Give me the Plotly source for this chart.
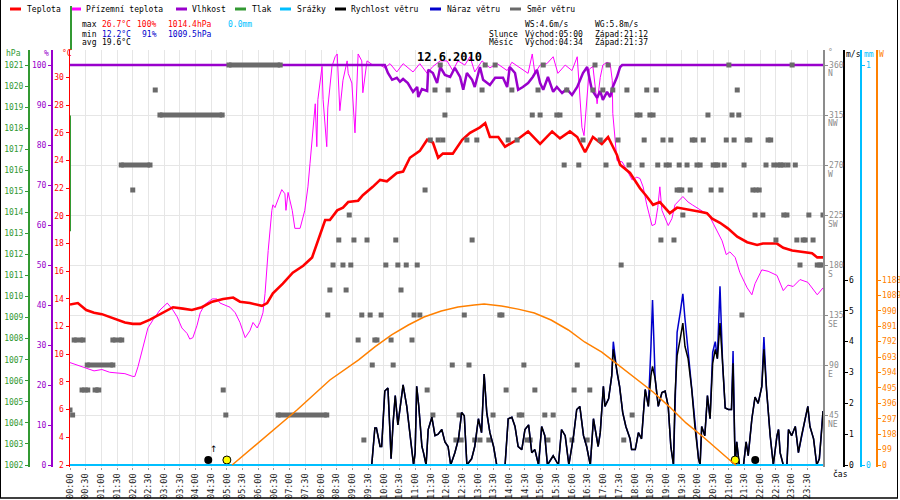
"""Daily weather station chart for 12.6.2010 (Plotly rebuild)."""

import plotly.graph_objects as go

W, H = 900, 500
LEFT, RIGHT, TOP, BASE, BOTTOM = 70, 823, 50, 465, 467
FONT = "DejaVu Sans Mono"

RED = "#ff0000"
MAGENTA = "#ff00ff"
PURPLE = "#9900cc"
GREEN = "#339933"
CYAN = "#00bfff"
BLUE = "#0000cc"
ORANGE = "#ff8000"
SQUARE = "#6a6a6a"
AXGRAY = "#8c8c8c"
GRID = "#e6e6e6"

# ---------------------------------------------------------------- data
temp_time = [
    "00:00", "00:15", "00:31", "00:46", "01:01", "01:16", "01:30", "01:45", "02:00", "02:14",
    "02:33", "02:58", "03:17", "03:36", "03:53", "04:12", "04:32", "04:53", "05:12", "05:25",
    "05:44", "06:07", "06:17", "06:28", "06:47", "07:06", "07:26", "07:43", "07:54", "08:08",
    "08:17", "08:31", "08:42", "08:52", "09:11", "09:20", "09:39", "09:53", "10:06", "10:25",
    "10:37", "10:50", "11:09", "11:23", "11:34", "11:44", "11:53", "12:12", "12:30", "12:45",
    "13:04", "13:14", "13:23", "13:39", "13:52", "14:15", "14:36", "14:59", "15:22", "15:37",
    "15:56", "16:10", "16:25", "16:40", "16:57", "17:09", "17:26", "17:32", "17:51", "18:10",
    "18:23", "18:35", "18:48", "19:07", "19:21", "19:46", "20:05", "20:18", "20:28", "20:43",
    "20:58", "21:16", "21:35", "21:54", "22:05", "22:32", "22:44", "23:01", "23:16", "23:39",
    "23:49", "24:00",
]
temp_c = [
    13.6, 13.7, 13.2, 13.0, 12.9, 12.7, 12.5, 12.3, 12.2, 12.2,
    12.5, 13.0, 13.4, 13.3, 13.2, 13.4, 13.8, 14.0, 14.1, 13.8,
    13.7, 13.5, 13.7, 14.4, 15.1, 15.9, 16.4, 17.0, 18.2, 19.7,
    19.7, 20.4, 20.6, 21.0, 21.1, 21.5, 22.1, 22.6, 22.5, 23.1,
    23.2, 24.2, 24.7, 25.5, 25.3, 24.2, 24.5, 24.5, 25.5, 26.0,
    26.4, 26.7, 25.7, 25.7, 25.0, 25.5, 26.1, 25.2, 26.1, 25.6,
    26.1, 25.7, 24.6, 25.7, 25.2, 25.7, 24.4, 23.7, 23.1, 22.0,
    21.4, 20.8, 21.0, 20.2, 20.6, 20.4, 20.3, 20.2, 19.8, 19.5,
    19.1, 18.5, 18.1, 17.9, 18.0, 18.0, 17.7, 17.5, 17.4, 17.3,
    17.0, 17.0,
]

ground_time = [
    "00:00", "00:15", "00:31", "00:46", "01:01", "01:16", "01:30", "01:45", "02:00", "02:04",
    "02:10", "02:20", "02:29", "02:39", "02:52", "03:06", "03:15", "03:25", "03:34", "03:44",
    "03:49", "03:55", "04:03", "04:09", "04:18", "04:32", "04:41", "04:47", "05:06", "05:16",
    "05:25", "05:35", "05:44", "05:50", "05:58", "06:03", "06:09", "06:13", "06:17", "06:19",
    "06:26", "06:28", "06:32", "06:45", "06:51", "06:53", "06:57", "07:05", "07:10", "07:20",
    "07:29", "07:35", "07:39", "07:45", "07:49", "07:52", "07:54", "08:02", "08:04", "08:11",
    "08:13", "08:21", "08:27", "08:31", "08:33", "08:36", "08:42", "08:50", "08:52", "08:59",
    "09:05", "09:11", "09:18", "09:20", "09:28", "09:39", "09:53", "10:02", "10:12", "10:25",
    "10:37", "10:56", "11:09", "11:23", "11:34", "11:48", "12:01", "12:12", "12:22", "12:35",
    "12:45", "12:54", "13:08", "13:23", "13:37", "13:56", "14:05", "14:21", "14:36", "14:44",
    "14:49", "14:59", "15:12", "15:24", "15:33", "15:47", "16:00", "16:10", "16:15", "16:19",
    "16:23", "16:29", "16:33", "16:40", "16:48", "16:54", "16:59", "17:07", "17:13", "17:17",
    "17:18", "17:26", "17:36", "17:45", "17:55", "18:04", "18:10", "18:16", "18:23", "18:33",
    "18:39", "18:44", "18:48", "18:52", "19:04", "19:11", "19:17", "19:32", "19:42", "19:50",
    "20:11", "20:20", "20:37", "20:47", "20:55", "21:02", "21:12", "21:21", "21:35", "21:44",
    "21:50", "22:03", "22:15", "22:32", "22:44", "22:53", "23:03", "23:16", "23:31", "23:49",
    "24:00",
]
ground_c = [
    9.4, 9.2, 9.0, 8.8, 8.9, 8.7, 8.65, 8.6, 8.4, 8.4,
    9.1, 10.5, 11.9, 12.5, 13.2, 13.7, 13.3, 12.7, 11.9, 11.5,
    11.1, 11.2, 12.1, 13.0, 13.6, 14.0, 14.0, 13.7, 13.4, 13.0,
    12.3, 11.2, 11.7, 12.3, 11.9, 12.3, 13.0, 14.4, 16.8, 17.5,
    20.4, 20.8, 20.6, 21.9, 21.6, 20.4, 21.7, 20.4, 19.1, 19.1,
    20.4, 22.1, 23.8, 26.2, 28.1, 25.0, 28.4, 30.8, 28.4, 25.0,
    27.8, 30.8, 31.5, 31.7, 29.8, 27.6, 29.8, 31.2, 30.3, 29.6,
    26.0, 31.7, 31.2, 28.9, 31.2, 30.9, 30.9, 30.7, 31.0, 30.4,
    31.0, 30.4, 31.0, 30.3, 30.8, 31.2, 31.2, 30.5, 31.2, 30.9,
    31.5, 30.4, 31.2, 30.7, 31.0, 30.5, 31.1, 30.7, 30.3, 31.7,
    30.3, 30.9, 31.0, 31.5, 30.3, 30.9, 30.5, 31.5, 28.4, 26.4,
    25.8, 28.4, 30.6, 30.8, 28.1, 30.0, 30.9, 31.1, 31.0, 29.8,
    27.4, 24.0, 23.9, 23.3, 22.6, 22.8, 22.7, 22.1, 20.8, 19.3,
    19.4, 20.6, 22.1, 20.4, 19.3, 19.8, 20.8, 21.4, 21.0, 20.8,
    20.3, 20.2, 19.0, 18.2, 17.2, 17.4, 17.0, 15.9, 14.8, 14.3,
    15.1, 16.1, 16.0, 15.7, 14.6, 15.0, 14.9, 15.4, 15.2, 14.3,
    14.8,
]

hum_time = [
    "00:00", "10:02", "10:08", "10:16", "10:25", "10:31", "10:37", "10:46", "10:56", "11:04",
    "11:06", "11:13", "11:23", "11:25", "11:34", "11:42", "11:48", "11:57", "12:07", "12:16",
    "12:26", "12:32", "12:39", "12:49", "12:54", "13:04", "13:10", "13:23", "13:33", "13:48",
    "13:56", "14:01", "14:11", "14:17", "14:26", "14:36", "14:45", "14:53", "14:59", "15:05",
    "15:14", "15:24", "15:31", "15:41", "15:50", "16:00", "16:10", "16:21", "16:29", "16:38",
    "16:48", "16:54", "16:59", "17:07", "17:13", "17:18", "17:26", "17:32", "17:36", "24:00",
]
hum_pct = [
    100, 100, 98, 96.3, 96.8, 95.8, 96.5, 95.5, 93.3, 94.5,
    92, 94, 93.5, 98.8, 98, 95.5, 99.5, 97.5, 97, 99.3,
    97, 93.8, 98, 96.3, 94.5, 99.5, 96.3, 95, 96.8, 96.8,
    94.5, 99.5, 98, 93.8, 94.5, 95.5, 97, 98.8, 95.5, 93.8,
    97, 93.3, 94.5, 93, 94, 92.5, 94.5, 98, 99.5, 93.8,
    91.8, 93.5, 91.3, 93.3, 92, 94.5, 97, 99.5, 100, 100,
]

# the pressure trace shows up only as a short stroke on the left edge
pressure_time = ["00:00", "00:00"]
pressure_hpa = [1013.1, 1018.6]

wind_time = [
    "00:00", "09:37", "09:43", "09:46", "09:53", "09:56", "10:02", "10:08", "10:12", "10:14",
    "10:18", "10:22", "10:27", "10:34", "10:37", "10:44", "10:50", "10:57", "11:00", "11:03",
    "11:07", "11:13", "11:16", "11:21", "11:25", "11:32", "11:38", "11:44", "11:51", "11:57",
    "12:03", "12:08", "12:16", "12:23", "12:29", "12:34", "12:39", "12:48", "12:54", "13:01",
    "13:07", "13:12", "13:17", "13:23", "13:30", "13:36", "13:52", "13:58", "14:05", "14:11",
    "14:17", "14:24", "14:30", "14:37", "14:43", "14:49", "14:56", "15:02", "15:08", "15:13",
    "15:24", "15:34", "15:40", "15:47", "15:54", "16:03", "16:09", "16:15", "16:22", "16:28",
    "16:35", "16:41", "16:50", "16:54", "17:00", "17:03", "17:10", "17:16", "17:19", "17:26",
    "17:31", "17:37", "17:43", "17:51", "17:54", "18:01", "18:07", "18:13", "18:20", "18:26",
    "18:31", "18:34", "18:39", "18:45", "18:52", "18:58", "19:04", "19:09", "19:14", "19:17",
    "19:21", "19:27", "19:32", "19:36", "19:42", "19:49", "19:55", "20:02", "20:05", "20:08",
    "20:14", "20:19", "20:24", "20:29", "20:34", "20:38", "20:43", "20:48", "20:53", "20:59",
    "21:05", "21:08", "21:12", "21:15", "21:20", "21:28", "21:33", "21:37", "21:44", "21:50",
    "21:56", "22:03", "22:07", "22:12", "22:19", "22:25", "22:32", "22:35", "22:38", "22:44",
    "22:51", "22:54", "23:00", "23:07", "23:13", "23:19", "23:26", "23:31", "23:35", "23:42",
    "23:48", "23:53", "23:58", "24:00",
]
wind_ms = [
    0, 0, 1.2, 1.2, 0.6, 0.6, 2.4, 2.5, 1.05, 0.2,
    1.4, 2.25, 1.3, 2.15, 2.6, 1.9, 1.1, 0, 0.4, 2.55,
    1.9, 0.6, 0.4, 0, 1.15, 1.55, 0.95, 1.0, 1.15, 0.75,
    0.6, 0, 0.4, 0.85, 1.7, 1.6, 0, 0.2, 0.6, 1.5,
    1.05, 2.95, 1.7, 1.05, 0.6, 0, 0, 1.5, 1.55, 1.25,
    0.6, 0.5, 1.15, 1.3, 0.4, 0.5, 0, 1.25, 0.95, 0,
    0.3, 0, 1.15, 0.95, 0, 0.95, 1.8, 1.9, 0.95, 0.6,
    0, 1.5, 0.6, 1.05, 2.55, 1.9, 2.15, 2.9, 3.75, 3.0,
    2.55, 1.7, 1.25, 0.85, 0.5, 0.5, 1.05, 0.85, 2.45, 1.9,
    2.9, 3.2, 2.8, 1.9, 2.35, 2.4, 1.9, 0.6, 0, 2.25,
    3.55, 4.1, 4.6, 3.85, 3.45, 2.45, 1.25, 0.2, 0, 1.25,
    0.95, 2.25, 1.5, 3.3, 3.75, 3.45, 4.6, 3.3, 1.85, 1.8,
    1.8, 3.3, 0, 0.75, 0, 0, 0.75, 0.3, 1.5, 2.2,
    2.0, 2.55, 3.75, 2.45, 0.95, 0, 0.95, 1.15, 0.4, 0,
    0, 1.15, 0.95, 1.25, 0.4, 0.95, 1.5, 1.9, 1.25, 0.85,
    0, 0.2, 1.25, 1.75,
]
# gusts only where they rise above the mean speed
gust_time = ["17:19", "18:31", "18:34", "19:21", "19:27", "19:32", "19:36",
             "19:42", "20:29", "20:34", "20:43", "21:08", "22:07"]
gust_ms = [4.0, 3.85, 5.35, 4.3, 4.95, 5.55, 4.75, 3.7, 3.65, 4.0, 5.8, 3.7, 4.15]

sun_time = [
    "05:10", "06:10", "07:14", "08:17", "09:12", "09:43", "10:15", "10:47", "11:17", "11:50",
    "12:22", "12:53", "13:12", "13:45", "14:17", "14:48", "15:20", "15:53", "16:24", "16:57",
    "17:22", "18:02", "18:35", "19:07", "19:38", "20:11", "20:43", "21:08", "21:14",
]
sun_w = [
    0, 171, 353, 546, 675, 758, 835, 899, 950, 989,
    1014, 1027, 1034, 1021, 1001, 976, 931, 867, 790, 725,
    661, 558, 469, 372, 270, 180, 83, 13, 0,
]

precip_time = ["00:00", "24:00"]
precip_mm = [0.0, 0.0]

dir_time = [
    "11:48", "13:14", "13:33", "15:05", "16:44", "17:09", "21:00", "23:01",
    "02:43", "11:38", "12:03", "13:08", "14:05", "14:55", "15:50", "16:40", "16:59", "17:18",
    "17:45", "18:23", "18:41", "21:16",
    "11:57", "14:44", "14:59", "15:31", "15:37", "16:50", "18:04", "18:10", "18:29", "18:35",
    "20:20", "21:06", "21:19",
    "11:29", "11:44", "11:53", "12:39", "12:58", "13:58", "14:15", "16:21", "16:54", "17:28",
    "18:18", "18:54", "19:09", "19:50", "19:55", "20:11", "20:55", "21:10", "21:35", "21:40",
    "22:15", "22:20",
    "15:45", "16:13", "17:05", "17:49", "18:14", "18:44", "19:00", "19:06", "19:25", "19:40",
    "19:59", "20:05", "20:30", "20:35", "20:39", "20:51", "21:29", "22:11", "22:26", "22:34",
    "22:39", "22:44", "22:53", "23:07",
    "02:00", "11:19", "19:21", "19:26", "19:30", "19:46", "20:26", "20:45", "21:46", "21:52",
    "21:58",
    "08:54", "19:32", "21:50", "22:05", "22:45", "22:51", "23:33", "24:00",
    "08:34", "09:03", "09:28", "10:23", "12:49", "18:50", "19:15", "22:30", "23:10", "23:22",
    "23:26", "23:41",
    "08:23", "08:42", "08:57", "10:04", "10:27", "10:43", "11:04", "17:34", "23:16", "23:49",
    "23:54", "23:58",
    "08:17", "08:48", "10:33",
    "08:13", "09:18", "09:34", "09:55", "10:58", "11:09", "12:34", "13:42", "13:46", "21:25",
    "09:11", "09:43", "09:47", "10:14", "10:54",
    "09:38", "10:18", "12:11", "12:43", "14:28", "16:10",
    "04:53", "11:23", "13:54", "14:49", "16:04", "16:34",
    "00:00", "00:05", "04:58", "11:34", "12:24", "13:29", "14:19", "14:24", "15:08", "15:24",
    "17:55",
    "09:22", "12:18", "12:28", "12:54", "13:04", "13:21", "14:34", "14:40", "15:14", "16:00",
    "16:29", "17:39",
]
dir_deg = (
    [360] * 8
    + [337.5] * 14
    + [315] * 13
    + [292.5] * 22
    + [270] * 24
    + [247.5] * 11
    + [225] * 8
    + [202.5] * 12
    + [180] * 12
    + [157.5] * 3
    + [135] * 10
    + [112.5] * 5
    + [90] * 6
    + [67.5] * 6
    + [49.5] + [45] * 10
    + [22.5] * 12
)
# stretches where the vane stayed on one reading
dir_run_start = ["05:04", "02:52", "01:38", "00:08", "01:22", "00:33", "00:23", "00:48", "06:38"]
dir_run_end = ["06:42", "04:51", "02:33", "00:25", "01:39", "01:22", "00:34", "00:55", "08:11"]
dir_run_deg = [360, 315, 270, 112.5, 112.5, 90, 67.5, 67.5, 45]

sunrise, sunset = "05:00", "21:12"
moonrise, moonset = "04:34", "21:37"

x_ticktext = [f"{h:02d}:{m:02d}" for h in range(24) for m in (0, 30)]
compass = ["NE", "E", "SE", "S", "SW", "W", "NW", "N"]
w_ticks = [0, 99, 198, 297, 396, 495, 594, 693, 792, 891, 990, 1089, 1188]


# ---------------------------------------------------------------- helpers
def hours(t):
    hh, mm = t.split(":")
    return int(hh) + int(mm) / 60


def hx(times):
    return [hours(t) for t in times]


def px(x):
    return x / W


def py(y):
    return 1 - y / H


def yrange(v_base, px_per_unit):
    return [v_base - (BOTTOM - BASE) / px_per_unit, v_base + (BASE - TOP) / px_per_unit]


PX_PER_H = (RIGHT - LEFT) / 24
PPU_WIND = 185 / 6


def side_axis(rng, color, tickvals, position=None, side="left", ticktext=None):
    ax = dict(
        range=rng,
        tickvals=tickvals,
        tickfont=dict(family=FONT, size=8, color=color),
        showline=True,
        linecolor=color,
        linewidth=1.5,
        ticks="outside",
        ticklen=3,
        tickcolor=color,
        showgrid=False,
        zeroline=False,
        side=side,
        automargin=False,
        fixedrange=True,
    )
    if ticktext is not None:
        ax["ticktext"] = ticktext
    if position is not None:
        ax.update(anchor="free", position=position, overlaying="y")
    return ax


# ---------------------------------------------------------------- figure
fig = go.Figure()

fig.add_trace(go.Scatter(x=hx(precip_time), y=precip_mm, yaxis="y6", mode="lines",
                         line=dict(color=CYAN, width=2)))
fig.add_trace(go.Scatter(x=hx(sun_time), y=sun_w, yaxis="y7", mode="lines",
                         line=dict(color=ORANGE, width=1.5)))

gust_lookup = dict(zip(gust_time, gust_ms))
gust_full = [gust_lookup.get(t, v) for t, v in zip(wind_time, wind_ms)]
fig.add_trace(go.Scatter(x=hx(wind_time), y=gust_full, yaxis="y5", mode="lines",
                         line=dict(color=BLUE, width=1.5)))
fig.add_trace(go.Scatter(x=hx(wind_time), y=wind_ms, yaxis="y5", mode="lines",
                         line=dict(color="black", width=1.5)))

fig.add_trace(go.Scatter(x=hx(hum_time), y=hum_pct, yaxis="y2", mode="lines",
                         line=dict(color=PURPLE, width=2.5)))

run_x, run_y = [], []
for s, e, d in zip(dir_run_start, dir_run_end, dir_run_deg):
    run_x += [hours(s), hours(e), None]
    run_y += [d, d, None]
fig.add_trace(go.Scatter(x=run_x, y=run_y, yaxis="y4", mode="lines+markers",
                         line=dict(color=SQUARE, width=5),
                         marker=dict(symbol="square", size=5, color=SQUARE, line=dict(width=0))))
fig.add_trace(go.Scatter(x=hx(dir_time), y=dir_deg, yaxis="y4", mode="markers",
                         marker=dict(symbol="square", size=5, color=SQUARE, line=dict(width=0))))

fig.add_trace(go.Scatter(x=hx(ground_time), y=ground_c, yaxis="y", mode="lines",
                         line=dict(color=MAGENTA, width=1)))
fig.add_trace(go.Scatter(x=hx(temp_time), y=temp_c, yaxis="y", mode="lines",
                         line=dict(color=RED, width=2.6)))
fig.add_trace(go.Scatter(x=hx(pressure_time), y=pressure_hpa, yaxis="y3", mode="lines",
                         line=dict(color=GREEN, width=2)))

# sun and moon markers just above the baseline
lift = 5 / PPU_WIND
fig.add_trace(go.Scatter(x=hx([sunrise, sunset]), y=[lift, lift], yaxis="y5", mode="markers",
                         cliponaxis=False,
                         marker=dict(symbol="circle", size=8, color="#ffff00",
                                     line=dict(color="black", width=1))))
fig.add_trace(go.Scatter(x=[hours(moonrise) - 5 / PX_PER_H, hours(moonset) + 7 / PX_PER_H],
                         y=[lift, lift], yaxis="y5", mode="markers", cliponaxis=False,
                         marker=dict(symbol="circle", size=8, color="black")))

# ---------------------------------------------------------------- annotations
ann = []


def label(x, y, text, color="black", size=8, anchor="left"):
    ann.append(dict(x=px(x), y=py(y), xref="paper", yref="paper", text=text, showarrow=False,
                    xanchor=anchor, yanchor="middle", font=dict(family=FONT, size=size, color=color)))


shapes = []


def seg(x0, y0, x1, y1, color, width):
    shapes.append(dict(type="line", xref="paper", yref="paper", x0=px(x0), y0=py(y0),
                       x1=px(x1), y1=py(y1), line=dict(color=color, width=width)))


legend_items = [
    (10, 25, "Teplota", RED), (70, 84, "Přízemní teplota", MAGENTA),
    (176, 190, "Vlhkost", PURPLE), (235, 250, "Tlak", GREEN),
    (280, 295, "Srážky", CYAN), (335, 349, "Rychlost větru", "black"),
    (430, 445, "Náraz větru", BLUE), (510, 525, "Směr větru", SQUARE),
]
for x0, xt, name, col in legend_items:
    seg(x0, 9, x0 + 11, 9, col, 3)
    label(xt, 9, name)

label(80, 24, "max")
label(100, 24, "26.7°C", RED)
label(135, 24, "100%", RED)
label(166, 24, "1014.4hPa", RED)
label(226, 24, "0.0mm", CYAN)
label(80, 34, "min")
label(100, 34, "12.2°C", BLUE)
label(140, 34, "91%", BLUE)
label(166, 34, "1009.5hPa", BLUE)
label(80, 43, "avg")
label(100, 43, "19.6°C")
label(523, 24, "WS:4.6m/s")
label(593, 24, "WG:5.8m/s")
label(487, 34, "Slunce")
label(523, 34, "Východ:" + sunrise)
label(593, 34, "Západ:" + sunset)
label(487, 43, "Měsíc")
label(523, 43, "Východ:" + moonrise)
label(593, 43, "Západ:" + moonset)

label(449, 57, "<b>12.6.2010</b>", size=12, anchor="center")

label(4, 54, "hPa", GREEN)
label(42, 54, "%", PURPLE)
label(60, 54, "°C", RED)
label(826, 53, "°", AXGRAY)
label(844, 55, "m/s")
label(862, 55, "mm", CYAN)
label(877, 55, "W", ORANGE)
label(831, 474, "čas")

for deg, name in zip(range(45, 361, 45), compass):
    ann.append(dict(x=px(826), y=deg, xref="paper", yref="y4", yshift=-9, text=name,
                    showarrow=False, xanchor="left", yanchor="middle",
                    font=dict(family=FONT, size=8, color=AXGRAY)))

ann.append(dict(x=hours(moonrise), y=py(456), xref="x", yref="paper", xshift=1, text="↑",
                showarrow=False, font=dict(family="DejaVu Sans", size=9, color="black")))

# green stroke above the plot on the temperature axis, and the frame
seg(71, 6, 71, TOP, GREEN, 2)
seg(0.5, 0, 0.5, 498, "black", 1)
seg(897.5, 0, 897.5, 498, "black", 1)
seg(0, 498, 898, 498, "black", 1.5)

# ---------------------------------------------------------------- layout
fig.update_layout(
    template="none",
    width=W,
    height=H,
    margin=dict(l=0, r=0, t=0, b=0, pad=0, autoexpand=False),
    paper_bgcolor="white",
    plot_bgcolor="white",
    showlegend=False,
    annotations=ann,
    shapes=shapes,
    xaxis=dict(
        domain=[px(LEFT), px(RIGHT)],
        range=[0, 24],
        tickvals=[i * 0.5 for i in range(48)],
        ticktext=x_ticktext,
        tickangle=-90,
        tickfont=dict(family=FONT, size=8.5, color="#222222"),
        ticks="outside",
        ticklen=2,
        tickcolor="#999999",
        showgrid=True,
        gridcolor=GRID,
        gridwidth=1,
        zeroline=False,
        showline=False,
        automargin=False,
        fixedrange=True,
    ),
    yaxis=dict(
        side_axis(yrange(2, 387.5 / 28), RED, list(range(2, 31, 2))),
        domain=[py(BOTTOM), py(TOP)],
        anchor="x",
    ),
    yaxis2=side_axis(yrange(0, 4.0), PURPLE, list(range(0, 101, 10)), position=px(51)),
    yaxis3=side_axis(yrange(1002, 400 / 19), GREEN, list(range(1002, 1022)), position=px(28)),
    yaxis4=dict(
        side_axis(yrange(0, 400 / 360), AXGRAY, list(range(45, 361, 45))),
        anchor="x",
        overlaying="y",
        side="right",
        showgrid=True,
        gridcolor=GRID,
    ),
    yaxis5=side_axis(yrange(0, PPU_WIND), "black", list(range(0, 7)), position=px(843), side="right"),
    yaxis6=side_axis(yrange(0, 400), CYAN, [0, 1], position=px(860), side="right"),
    yaxis7=side_axis(yrange(0, 185 / 1188), ORANGE, w_ticks, position=px(876), side="right"),
)

# the page's default body margin would push the 900x500 figure off-frame
fig.write_html("out.html", config={"displayModeBar": False, "staticPlot": True},
               post_script="document.body.style.margin = '0';")
